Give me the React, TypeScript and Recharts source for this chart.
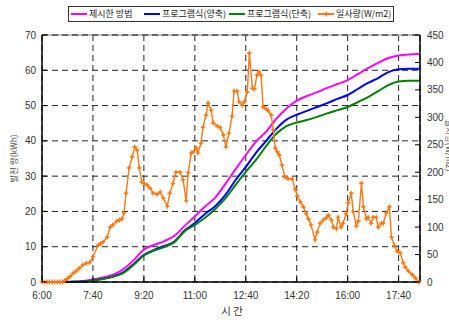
import { ComposedChart, Line, XAxis, YAxis, CartesianGrid, ReferenceLine } from 'recharts'

// cumulative generation (kWh), sampled every 20 min from 6:00
const times = [
  360, 380, 400, 420, 440, 460, 480, 500, 520, 540, 560, 580, 600, 620, 640, 660, 680, 700, 720,
  740, 760, 780, 800, 820, 840, 860, 880, 900, 920, 940, 960, 980, 1000, 1020, 1040, 1060, 1080, 1100,
]
const proposed = [
  0, 0, 0, 0.05, 0.25, 0.7, 1.3, 2.1, 3.7, 6.2, 9.2, 10.5, 11.6, 13.1, 15.9, 18.6, 21.4, 23.9, 27.8,
  32.0, 36.0, 39.8, 42.6, 46.3, 49.2, 51.4, 52.7, 53.8, 55.0, 56.1, 57.2, 58.9, 60.6, 62.1, 63.5, 64.2, 64.5, 64.6,
]
const dualAxis = [
  0, 0, 0, 0.05, 0.15, 0.45, 0.9, 1.6, 2.8, 5.1, 7.7, 9.1, 10.2, 11.5, 14.6, 16.7, 19.3, 21.5, 24.7,
  28.9, 32.6, 36.6, 40.0, 43.4, 46.0, 47.4, 48.5, 49.6, 50.7, 51.9, 53.0, 54.7, 56.4, 57.8, 59.5, 60.3, 60.4, 60.4,
]
const singleAxis = [
  0, 0, 0, 0.05, 0.1, 0.4, 0.85, 1.5, 2.6, 4.9, 7.5, 8.9, 9.9, 11.3, 14.4, 16.2, 18.2, 20.7, 23.7,
  27.5, 31.2, 34.6, 38.5, 42.0, 44.2, 45.2, 45.9, 46.8, 47.8, 48.7, 49.6, 51.0, 52.4, 54.1, 55.8, 56.8, 57.0, 57.0,
]

// irradiance (W/m2)
const irrTimes = [
  360, 365, 370, 375, 380, 385, 390, 395, 400, 405, 410, 415, 421, 427, 433, 440, 447, 454, 460, 470,
  475, 480, 488, 494, 499, 507, 512, 517, 521, 525, 531, 537, 542, 547, 551, 556, 561, 566, 572, 578,
  586, 592, 598, 606, 611, 617, 623, 631, 637, 643, 647, 653, 657, 663, 666, 672, 676, 682, 686, 692,
  696, 704, 710, 716, 721, 727, 733, 737, 743, 747, 753, 757, 763, 767, 773, 777, 782, 786, 790, 794,
  800, 804, 810, 814, 818, 822, 826, 831, 837, 843, 851, 857, 861, 867, 873, 879, 883, 888, 896, 900,
  906, 912, 918, 922, 928, 932, 938, 941, 947, 951, 957, 961, 967, 971, 977, 981, 987, 991, 997, 1000,
  1006, 1010, 1016, 1020, 1026, 1030, 1036, 1042, 1046, 1052, 1057, 1063, 1069, 1073, 1079, 1087, 1093, 1100,
]
const irrValues = [
  0, 0, 0, 0, 0, 0, 0, 0, 0, 3, 6, 10, 16, 20, 25, 31, 34, 36, 46, 67,
  70, 73, 82, 100, 104, 111, 113, 115, 126, 162, 208, 228, 246, 240, 208, 182, 179, 177, 171, 162,
  160, 164, 153, 138, 162, 179, 200, 200, 186, 148, 199, 235, 237, 244, 235, 253, 282, 304, 326, 313,
  290, 284, 281, 268, 246, 271, 302, 348, 348, 328, 322, 328, 346, 417, 353, 352, 377, 383, 377, 319,
  315, 312, 304, 277, 244, 237, 231, 213, 191, 188, 188, 169, 157, 146, 137, 124, 115, 104, 77, 91,
  107, 113, 117, 122, 113, 100, 97, 118, 100, 107, 124, 144, 162, 128, 102, 111, 180, 137, 115, 118,
  107, 118, 118, 100, 107, 107, 126, 137, 82, 66, 56, 53, 35, 27, 20, 13, 7, 0,
]

const xTicks = [360, 460, 560, 660, 760, 860, 960, 1060]
const leftTicks = [0, 10, 20, 30, 40, 50, 60, 70]
const rightTicks = [0, 50, 100, 150, 200, 250, 300, 350, 400, 450]

const seriesNames = ['제시한 방법', '프로그램식(양축)', '프로그램식(단축)', '일사량(W/m2)']

const FONT = '"Liberation Sans", Arial, sans-serif'
const KFONT = '"Noto Sans CJK KR", "Noto Sans", sans-serif'
const ORANGE = '#ff7814'

const curveData = times.map((t, i) => ({
  t,
  proposed: proposed[i],
  dual: dualAxis[i],
  single: singleAxis[i],
}))
const irrData = irrTimes.map((t, i) => ({ t, v: irrValues[i] }))

function fmtTime(m: number): string {
  const h = Math.floor(m / 60)
  const mm = m % 60
  return `${h}:${String(mm).padStart(2, '0')}`
}

function LeftTick({ x, y, payload }: any) {
  return (
    <g>
      <line x1={x} x2={x + 5} y1={y} y2={y} stroke="#000" />
      <text x={x - 6} y={y} dy={3.5} textAnchor="end" fontSize={10} fill="#333" fontFamily={FONT}>
        {payload.value}
      </text>
    </g>
  )
}

function RightTick({ x, y, payload }: any) {
  return (
    <g>
      <line x1={x - 5} x2={x} y1={y} y2={y} stroke="#000" />
      <text x={x + 7} y={y} dy={3.5} textAnchor="start" fontSize={10} fill="#333" fontFamily={FONT}>
        {payload.value}
      </text>
    </g>
  )
}

function BottomTick({ x, y, payload }: any) {
  return (
    <g>
      <line x1={x} x2={x} y1={y} y2={y - 5} stroke="#000" />
      <text x={x} y={y + 17} textAnchor="middle" fontSize={10} fill="#333" fontFamily={FONT}>
        {fmtTime(payload.value)}
      </text>
    </g>
  )
}

function plusDot(p: any) {
  const { cx, cy, index } = p
  if (cx == null || cy == null) return <g key={index} />
  return (
    <g key={index}>
      <path d={`M${cx - 2.4},${cy}H${cx + 2.4}M${cx},${cy - 2.4}V${cy + 2.4}`} stroke={ORANGE} strokeWidth={1.2} />
      <circle cx={cx} cy={cy} r={1.3} fill={ORANGE} />
    </g>
  )
}

function Legend() {
  const items = [
    { color: '#ff00ff', left: 2 },
    { color: '#0000ff', left: 75 },
    { color: '#008000', left: 160 },
    { color: ORANGE, left: 249, marker: true },
  ]
  return (
    <div
      style={{
        position: 'absolute', left: 68, top: 6, width: 326, height: 16,
        border: '1px solid #333', background: '#fff', boxSizing: 'border-box',
      }}
    >
      {items.map((it, i) => (
        <div key={i} style={{ position: 'absolute', left: it.left, top: 0, height: 14, display: 'flex', alignItems: 'center' }}>
          <svg width={16} height={8} style={{ display: 'block' }}>
            <line x1={0} x2={16} y1={4} y2={4} stroke={it.color} strokeWidth={2} />
            {it.marker && <path d="M5.5,4H10.5M8,1.5V6.5" stroke={it.color} strokeWidth={1.3} />}
          </svg>
          <span style={{ marginLeft: 2, fontSize: 9, fontFamily: KFONT, color: '#222', whiteSpace: 'nowrap', lineHeight: '14px' }}>
            {seriesNames[i]}
          </span>
        </div>
      ))}
    </div>
  )
}

export default function App() {
  return (
    <div style={{ position: 'absolute', left: 0, top: 0, width: 449, height: 320, background: '#fff' }}>
      <ComposedChart width={449} height={320} data={curveData} margin={{ top: 35, right: 0, bottom: 0, left: 0 }}>
        <CartesianGrid yAxisId="left" stroke="#222" strokeDasharray="6 4" />
        <XAxis
          dataKey="t"
          type="number"
          domain={[360, 1102]}
          ticks={xTicks}
          interval={0}
          height={38}
          tickSize={0}
          tickMargin={0}
          tickLine={false}
          axisLine={{ stroke: '#000', strokeWidth: 1.5 }}
          tick={BottomTick}
          label={{
            content: (p: any) => {
              const vb = p.viewBox
              return (
                <text x={vb.x + vb.width / 2 + 1} y={vb.y + 33} textAnchor="middle" fontSize={10.5} fill="#333" fontFamily={KFONT}>
                  시 간
                </text>
              )
            },
          }}
        />
        <YAxis
          yAxisId="left"
          domain={[0, 70]}
          ticks={leftTicks}
          interval={0}
          width={42}
          tickSize={0}
          tickMargin={0}
          tickLine={false}
          axisLine={{ stroke: '#000', strokeWidth: 1.5 }}
          tick={LeftTick}
          label={{
            content: (p: any) => {
              const vb = p.viewBox
              const cy = vb.y + vb.height / 2
              return (
                <text transform={`translate(16.5,${cy}) rotate(-90)`} textAnchor="middle" fontSize={8.5} fill="#555" fontFamily={KFONT}>
                  발전 량(kWh)
                </text>
              )
            },
          }}
        />
        <YAxis
          yAxisId="right"
          orientation="right"
          domain={[0, 450]}
          ticks={rightTicks}
          interval={0}
          width={29}
          tickSize={0}
          tickMargin={0}
          tickLine={false}
          axisLine={{ stroke: '#000', strokeWidth: 1.5 }}
          tick={RightTick}
          label={{
            content: (p: any) => {
              const vb = p.viewBox
              const cy = vb.y + vb.height / 2 - 13
              return (
                <text transform={`translate(${vb.x + 25.5},${cy}) rotate(90)`} textAnchor="middle" fontSize={8.5} fill="#555" fontFamily={KFONT}>
                  {seriesNames[3]}
                </text>
              )
            },
          }}
        />
        <ReferenceLine yAxisId="left" y={70} stroke="#bbb" strokeWidth={2} />
        <ReferenceLine yAxisId="left" y={70} stroke="#666" strokeWidth={2} strokeDasharray="6 4" />

        <Line yAxisId="left" type="monotone" dataKey="proposed" stroke="#ff00ff" strokeWidth={2} dot={false} isAnimationActive={false} />
        <Line yAxisId="left" type="monotone" dataKey="dual" stroke="#0000ff" strokeWidth={2} dot={false} isAnimationActive={false} />
        <Line yAxisId="left" type="monotone" dataKey="single" stroke="#008000" strokeWidth={2} dot={false} isAnimationActive={false} />
        <Line
          yAxisId="right"
          data={irrData}
          dataKey="v"
          stroke={ORANGE}
          strokeWidth={1.4}
          dot={plusDot}
          isAnimationActive={false}
        />
      </ComposedChart>
      <Legend />
    </div>
  )
}
